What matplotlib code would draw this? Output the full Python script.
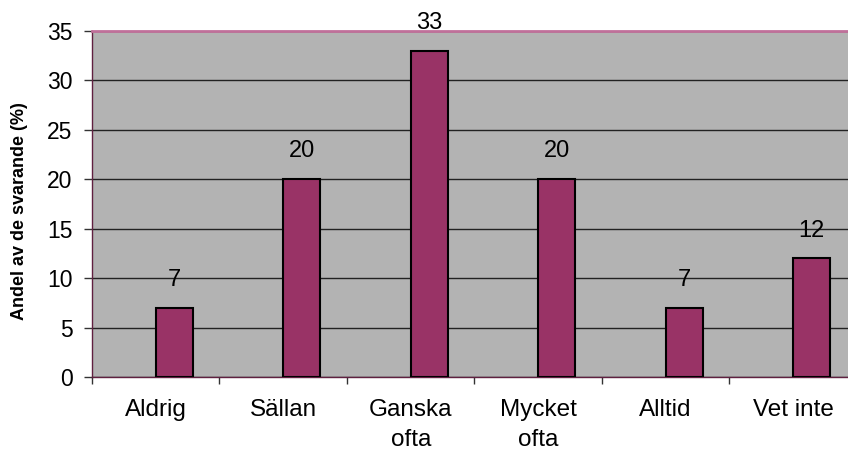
import matplotlib
matplotlib.use("Agg")
import matplotlib.pyplot as plt

# Data
categories = ["Aldrig", "Sällan", "Ganska\nofta", "Mycket\nofta", "Alltid", "Vet inte"]
values = [7, 20, 33, 20, 7, 12]
yticks = [0, 5, 10, 15, 20, 25, 30, 35]

plt.rcParams['font.family'] = ['Liberation Sans', 'DejaVu Sans']

fig = plt.figure(figsize=(8.48, 4.51), dpi=100)
ax = fig.add_axes([92 / 848, 74 / 451, 756 / 848, 346 / 451])
ax.set_facecolor("#B3B3B3")

x = list(range(len(categories)))
bar_w = 0.29
ax.bar(x, values, width=bar_w, align="edge", color="#993366",
       edgecolor="black", linewidth=1.5, zorder=3)

for xi, v in zip(x, values):
    ax.text(xi + bar_w / 2, v + 1.7, str(v), ha="center", va="bottom",
            fontsize=17, color="black", zorder=4)

ax.set_ylim(0, 35)
ax.set_xlim(-0.5, 5.43)
ax.set_yticks(yticks)
ax.set_yticklabels([str(t) for t in yticks], fontsize=16.5)
ax.yaxis.grid(True, color="#222222", linewidth=1, zorder=1)
ax.set_axisbelow(True)

# category ticks at boundaries, labels at centers
ax.set_xticks([i - 0.5 for i in range(len(categories))])
ax.set_xticklabels([])
ax.set_xticks(x, minor=True)
ax.set_xticklabels(categories, minor=True, fontsize=17.5, linespacing=1.45)
ax.tick_params(axis="x", which="major", direction="out", length=5, width=1, color="#333333")
ax.tick_params(axis="x", which="minor", length=0, pad=16)
ax.tick_params(axis="y", direction="out", length=6, width=1, color="#333333", pad=8)

ax.spines["right"].set_visible(False)
ax.spines["top"].set_color("#C0709A")
ax.spines["top"].set_linewidth(2)
ax.spines["left"].set_color("#602040")
ax.spines["bottom"].set_color("#602040")
ax.spines["left"].set_linewidth(1)
ax.spines["bottom"].set_linewidth(1)

ax.set_ylabel("Andel av de svarande (%)", fontsize=13, fontweight="bold")
ax.yaxis.set_label_coords(-0.085, 0.48)

fig.savefig("out.png", dpi=100)
